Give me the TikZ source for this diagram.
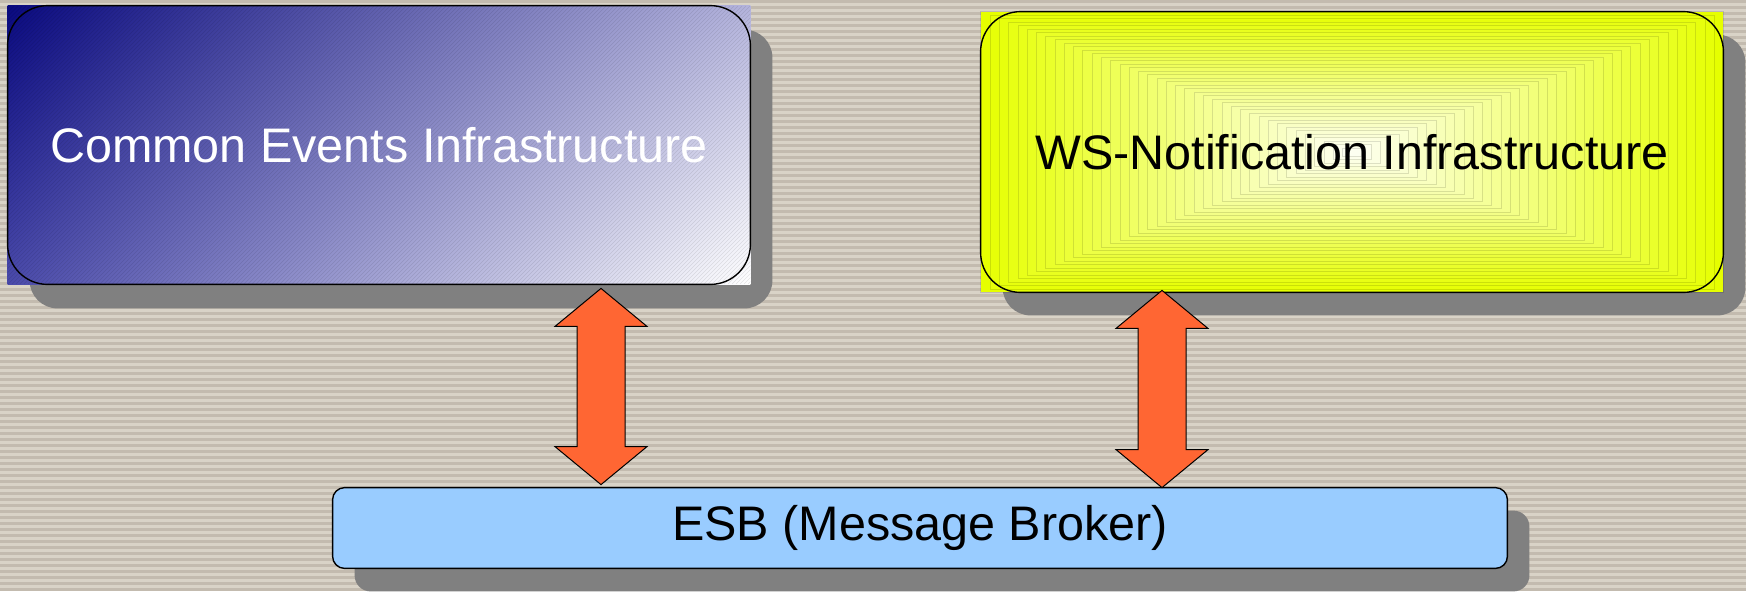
\documentclass[tikz,border=0pt]{standalone}
\usepackage{fontspec}
\setmainfont{Liberation Sans}
\usetikzlibrary{calc,backgrounds,shadings}
\definecolor{bglight}{HTML}{D9D3C7}
\definecolor{bgdark}{HTML}{C3BBAF}
\definecolor{shadowgray}{HTML}{808080}
\definecolor{navy}{HTML}{0A0A80}
\definecolor{lav}{HTML}{B4B4DC}
\definecolor{midblue}{HTML}{4A4AAA}
\definecolor{wsyellow}{HTML}{E6FF00}
\definecolor{esbblue}{HTML}{99CCFF}
\definecolor{arroworange}{HTML}{FF6633}
\newcommand\fatdoublearrow[2]{%
  \draw[fatarrow] (#1) -- ($(#1)+(46,38)$) -- ($(#1)+(24,38)$) -- ($(#2)+(24,-38)$)
    -- ($(#2)+(46,-38)$) -- (#2) -- ($(#2)+(-46,-38)$) -- ($(#2)+(-24,-38)$)
    -- ($(#1)+(-24,38)$) -- ($(#1)+(-46,38)$) -- cycle;}
\begin{document}
\begin{tikzpicture}[x=0.5pt,y=-0.5pt,
  boxtext/.style={inner sep=0pt, font=\fontsize{24.25}{29}\selectfont},
  outline/.style={draw=black, line width=0.7pt},
  shadowbox/.style={fill=shadowgray, rounded corners=14pt},
  hatch/.style={draw=black, draw opacity=0.10, line width=0.3pt},
  fatarrow/.style={fill=arroworange, draw=black, line width=0.5pt, line join=miter}]
\useasboundingbox (0,0) rectangle (1746,591);
% nodes
\node[boxtext, text=white, minimum width=371pt, minimum height=139pt] (cei) at (379,145) {Common Events Infrastructure};
\node[boxtext, text=black, minimum width=371pt, minimum height=140pt] (wsn) at (1352,152) {WS-Notification Infrastructure};
\node[boxtext, text=black, minimum width=587pt, minimum height=40pt] (esb) at (920,528) {ESB (Message Broker)};
\begin{pgfonlayer}{background}
  % striped background
  \fill[bglight] (0,0) rectangle (1746,591);
  \foreach \y in {0,6,...,590} \fill[bgdark] (0,\y) rectangle (1746,\y+3);
  % shadows
  \fill[shadowbox] ($(cei.north west)+(22,24)$) rectangle ($(cei.south east)+(22,24)$);
  \fill[shadowbox] ($(wsn.north west)+(22,23)$) rectangle ($(wsn.south east)+(22,23)$);
  \fill[shadowbox, rounded corners=8pt] ($(esb.north west)+(22,23)$) rectangle ($(esb.south east)+(22,23)$);
  % box 1
  \shade[upper left=navy, upper right=lav, lower left=midblue, lower right=white]
    (cei.north west) rectangle (cei.south east);
  \begin{scope}
    \clip (cei.north west) rectangle (cei.south east);
    \foreach \x in {-280,-276,...,760} \draw[hatch] (\x,284) -- ++(278,-278);
  \end{scope}
  \draw[outline, rounded corners=20pt] (cei.north west) rectangle (cei.south east);
  % box 2
  \foreach \i in {0,...,39} {
    \pgfmathtruncatemacro\p{100-2.4*\i}
    \fill[wsyellow!\p!white, draw=black, draw opacity=0.12, line width=0.2pt]
      ($(wsn.north west)+(\i*9.275,\i*3.5)$) rectangle ($(wsn.south east)-(\i*9.275,\i*3.5)$);
  }
  \draw[outline, rounded corners=20pt] (wsn.north west) rectangle (wsn.south east);
  % box 3
  \draw[outline, fill=esbblue, rounded corners=6pt] (esb.north west) rectangle (esb.south east);
\end{pgfonlayer}
% connectors
\coordinate (a1t) at ($(cei.south -| 601,0)+(0,4)$);
\coordinate (a1b) at ($(esb.north -| 601,0)+(0,-3)$);
\coordinate (a2t) at ($(wsn.south -| 1162,0)+(0,-2)$);
\coordinate (a2b) at (esb.north -| 1162,0);
\fatdoublearrow{a1t}{a1b}
\fatdoublearrow{a2t}{a2b}
\end{tikzpicture}
\end{document}
